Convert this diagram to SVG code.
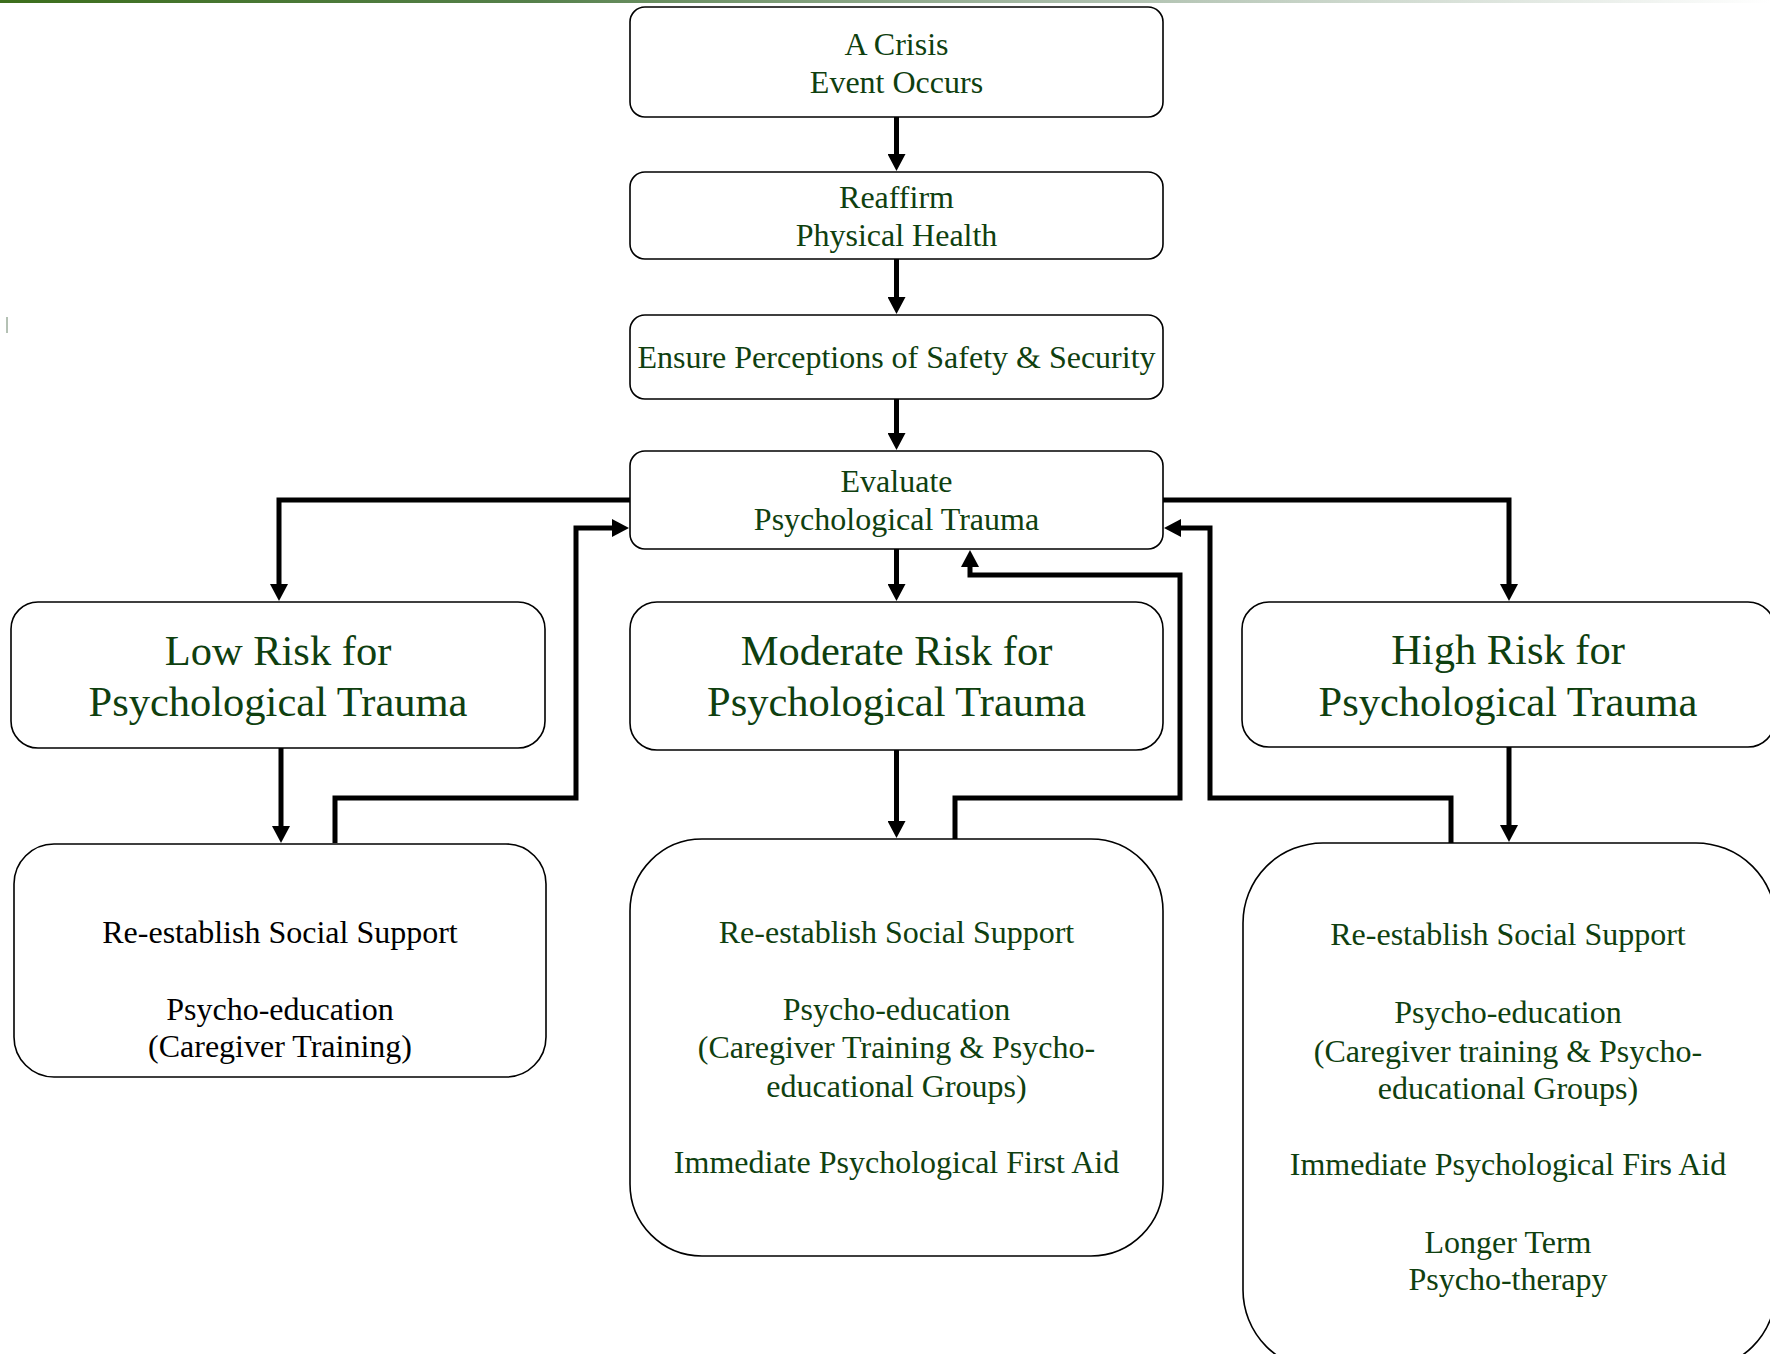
<svg xmlns="http://www.w3.org/2000/svg" width="1770" height="1354" viewBox="0 0 1770 1354">
<defs>
<linearGradient id="topbar" x1="0" y1="0" x2="1" y2="0">
<stop offset="0" stop-color="#3c6e1c"/>
<stop offset="0.3" stop-color="#55804a"/>
<stop offset="0.6" stop-color="#a9bca9"/>
<stop offset="1" stop-color="#ffffff"/>
</linearGradient>
<marker id="arr" viewBox="0 0 17 18" refX="1" refY="9" markerWidth="17" markerHeight="18" markerUnits="userSpaceOnUse" orient="auto">
<path d="M0,0 L17,9 L0,18 z" fill="#000"/>
</marker>
<style>
.box{fill:#fff;stroke:#000;stroke-width:1.6}
.t{font-family:"Liberation Serif","Times New Roman",serif;font-size:32px;fill:#0f400f;text-anchor:middle}
.big{font-size:42.5px}
.blk{fill:#000}
.c{fill:none;stroke:#000;stroke-width:5;stroke-linejoin:miter}
</style>
</defs>
<rect width="1770" height="1354" fill="#fff"/>
<rect x="0" y="0" width="1770" height="3" fill="url(#topbar)"/>
<line x1="7" y1="317" x2="7" y2="333" stroke="#6a846a" stroke-width="1"/>

<g id="connectors">
<path class="c" d="M896.5,117 V155" marker-end="url(#arr)"/>
<path class="c" d="M896.5,259 V298" marker-end="url(#arr)"/>
<path class="c" d="M896.5,399 V434" marker-end="url(#arr)"/>
<path class="c" d="M896.5,549 V585" marker-end="url(#arr)"/>
<path class="c" d="M630,500 H279 V585" marker-end="url(#arr)"/>
<path class="c" d="M1163,500 H1509 V585" marker-end="url(#arr)"/>
<path class="c" d="M281,734 V827" marker-end="url(#arr)"/>
<path class="c" d="M896.5,750 V822" marker-end="url(#arr)"/>
<path class="c" d="M1509,747 V826" marker-end="url(#arr)"/>
<path class="c" d="M335,843 V798 H576 V528 H613" marker-end="url(#arr)"/>
<path class="c" d="M955,845 V798 H1180 V575 H970 V566" marker-end="url(#arr)"/>
<path class="c" d="M1451,843 V798 H1210 V528 H1180" marker-end="url(#arr)"/>
</g>

<g id="crisis">
<rect class="box" x="630" y="7" width="533" height="110" rx="15"/>
<text class="t" x="896.5" y="55">A Crisis</text>
<text class="t" x="896.5" y="93">Event Occurs</text>
</g>
<g id="reaffirm">
<rect class="box" x="630" y="172" width="533" height="87" rx="15"/>
<text class="t" x="896.5" y="208">Reaffirm</text>
<text class="t" x="896.5" y="246">Physical Health</text>
</g>
<g id="ensure">
<rect class="box" x="630" y="315" width="533" height="84" rx="15"/>
<text class="t" x="896.5" y="368">Ensure Perceptions of Safety &amp; Security</text>
</g>
<g id="evaluate">
<rect class="box" x="630" y="451" width="533" height="98" rx="15"/>
<text class="t" x="896.5" y="492">Evaluate</text>
<text class="t" x="896.5" y="530">Psychological Trauma</text>
</g>
<g id="low">
<rect class="box" x="11" y="602" width="534" height="146" rx="27"/>
<text class="t big" x="278" y="665">Low Risk for</text>
<text class="t big" x="278" y="716">Psychological Trauma</text>
</g>
<g id="moderate">
<rect class="box" x="630" y="602" width="533" height="148" rx="27"/>
<text class="t big" x="896.5" y="665">Moderate Risk for</text>
<text class="t big" x="896.5" y="716">Psychological Trauma</text>
</g>
<g id="high">
<rect class="box" x="1242" y="602" width="533" height="145" rx="27"/>
<text class="t big" x="1508" y="664">High Risk for</text>
<text class="t big" x="1508" y="716">Psychological Trauma</text>
</g>
<g id="low-actions">
<rect class="box" x="14" y="844" width="532" height="233" rx="40"/>
<text class="t blk" x="280" y="943">Re-establish Social Support</text>
<text class="t blk" x="280" y="1020">Psycho-education</text>
<text class="t blk" x="280" y="1057">(Caregiver Training)</text>
</g>
<g id="moderate-actions">
<rect class="box" x="630" y="839" width="533" height="417" rx="72"/>
<text class="t" x="896.5" y="943">Re-establish Social Support</text>
<text class="t" x="896.5" y="1020">Psycho-education</text>
<text class="t" x="896.5" y="1058">(Caregiver Training &amp; Psycho-</text>
<text class="t" x="896.5" y="1097">educational Groups)</text>
<text class="t" x="896.5" y="1173">Immediate Psychological First Aid</text>
</g>
<g id="high-actions">
<rect class="box" x="1243" y="843" width="533" height="527" rx="80"/>
<text class="t" x="1508" y="945">Re-establish Social Support</text>
<text class="t" x="1508" y="1023">Psycho-education</text>
<text class="t" x="1508" y="1062">(Caregiver training &amp; Psycho-</text>
<text class="t" x="1508" y="1099">educational Groups)</text>
<text class="t" x="1508" y="1175">Immediate Psychological Firs Aid</text>
<text class="t" x="1508" y="1253">Longer Term</text>
<text class="t" x="1508" y="1290">Psycho-therapy</text>
</g>
</svg>
